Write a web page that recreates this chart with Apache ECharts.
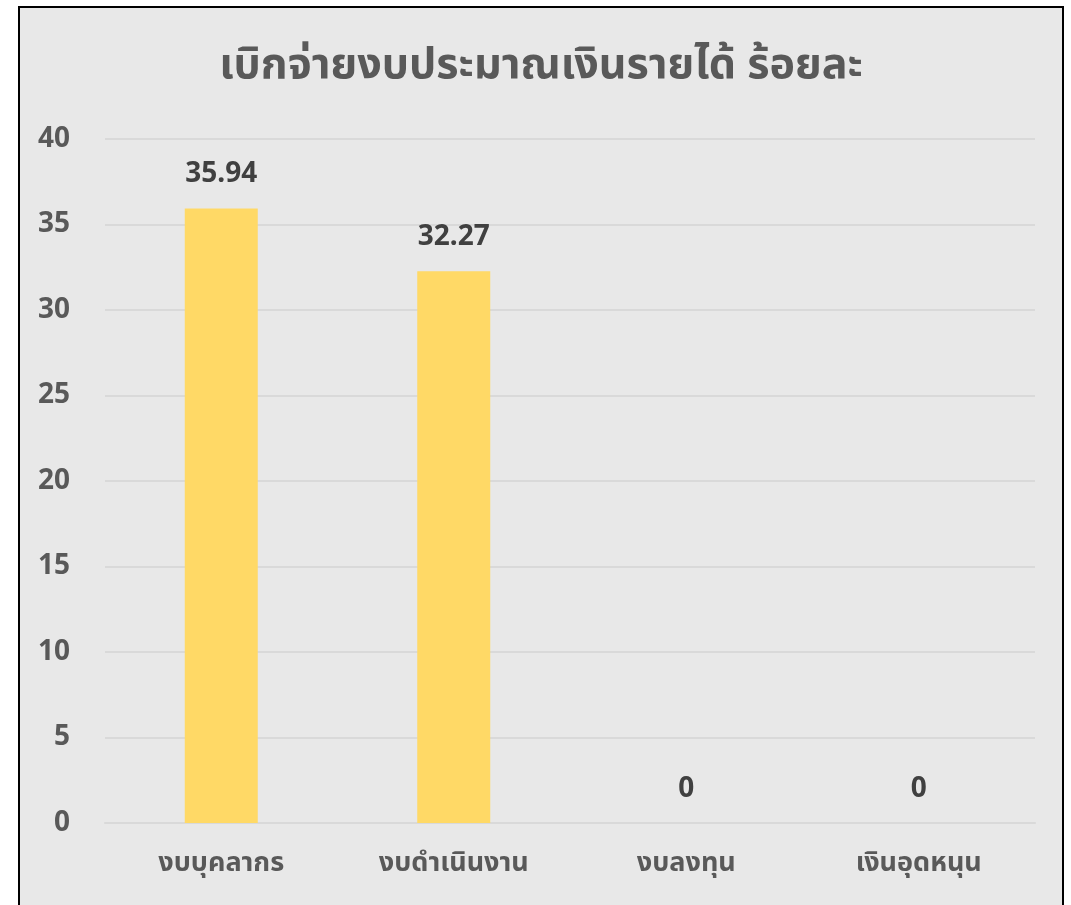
<!DOCTYPE html>
<html>
<head>
<meta charset="utf-8">
<script src="https://cdn.jsdelivr.net/npm/echarts@6/dist/echarts.min.js"></script>
<style>
  html, body { margin: 0; padding: 0; background: #ffffff; overflow: hidden; }
  #frame {
    position: absolute; left: 18px; top: 6px; width: 1042px; height: 940px;
    border: 2px solid #000000; background: #e8e8e8;
  }
  #chart { position: absolute; left: 0; top: 0; width: 1042px; height: 940px; }
</style>
</head>
<body>
<div id="frame"><div id="chart"></div></div>
<script>
const titleText = 'เบิกจ่ายงบประมาณเงินรายได้ ร้อยละ';
const categories = ['งบบุคลากร', 'งบดำเนินงาน', 'งบลงทุน', 'เงินอุดหนุน'];
const percentValues = [35.94, 32.27, 0, 0];
const yTicks = { min: 0, max: 40, interval: 5 };

const fontFamily = '"Noto Sans", "Noto Sans Thai", "Noto Sans CJK SC", sans-serif';
const chart = echarts.init(document.getElementById('chart'));

chart.setOption({
  backgroundColor: 'transparent',
  title: {
    text: titleText,
    left: 'center',
    top: 31,
    textStyle: { fontFamily, fontSize: 43, fontWeight: 'bold', color: '#595959' }
  },
  grid: { left: 85, right: 27, top: 131, bottom: 125 },
  xAxis: {
    type: 'category',
    data: categories,
    axisLine: { show: true, lineStyle: { color: '#d9d9d9', width: 2 } },
    axisTick: { show: false },
    axisLabel: { margin: 27, fontFamily, fontSize: 27, fontWeight: 'bold', color: '#595959' }
  },
  yAxis: {
    type: 'value',
    min: yTicks.min,
    max: yTicks.max,
    interval: yTicks.interval,
    axisLine: { show: false },
    axisTick: { show: false },
    splitLine: { lineStyle: { color: '#d9d9d9', width: 2 } },
    axisLabel: { margin: 35, fontFamily, fontSize: 28, fontWeight: 'bold', color: '#595959' }
  },
  series: [{
    type: 'bar',
    data: percentValues,
    barWidth: 73,
    itemStyle: { color: '#ffd966' },
    label: {
      show: true,
      position: 'top',
      distance: 20,
      fontFamily, fontSize: 28, fontWeight: 'bold', color: '#404040'
    }
  }]
});
</script>
</body>
</html>
